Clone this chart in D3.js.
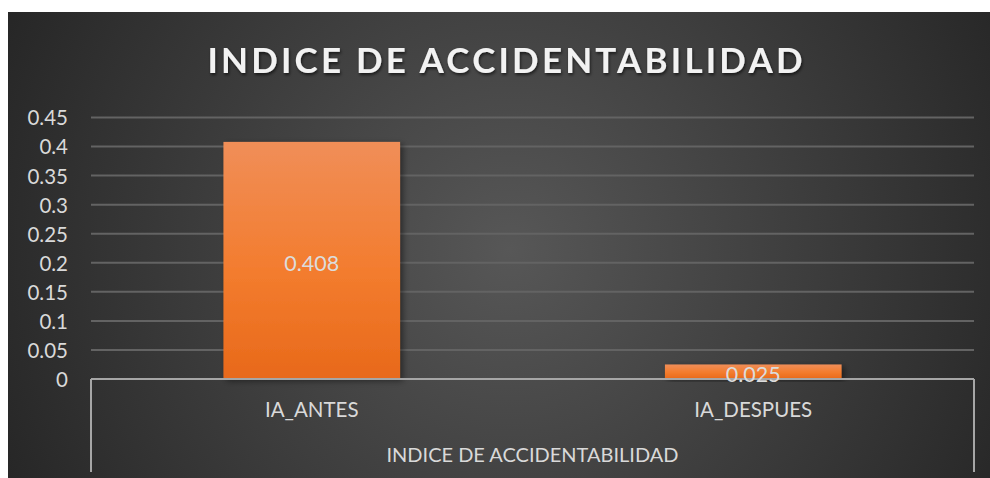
<!DOCTYPE html>
<html><head><meta charset="utf-8">
<script src="https://cdn.jsdelivr.net/npm/d3@7"></script>
<style>html,body{margin:0;padding:0;background:#fff;overflow:hidden}</style>
</head><body>
<svg id="chart" width="990" height="478"></svg>
<script>
const categories = ["IA_ANTES", "IA_DESPUES"];
const values = [0.408, 0.025];
const valueLabels = ["0.408", "0.025"];
const yTicks = [0, 0.05, 0.1, 0.15, 0.2, 0.25, 0.3, 0.35, 0.4, 0.45];
const title = "INDICE DE ACCIDENTABILIDAD";
const groupLabel = "INDICE DE ACCIDENTABILIDAD";

(function () {
const FONT = "Lato, 'Open Sans', sans-serif";
const svg = d3.select("#chart");
const defs = svg.append("defs");
const bg = defs.append("radialGradient").attr("id","bg").attr("gradientUnits","userSpaceOnUse")
  .attr("cx",510).attr("cy",250).attr("r",560);
bg.append("stop").attr("offset","0%").attr("stop-color","#575757");
bg.append("stop").attr("offset","100%").attr("stop-color","#262626");
const bar = defs.append("linearGradient").attr("id","bar").attr("x1",0).attr("y1",0).attr("x2",0).attr("y2",1);
bar.append("stop").attr("offset","0%").attr("stop-color","#f08e58");
bar.append("stop").attr("offset","55%").attr("stop-color","#f37c2e");
bar.append("stop").attr("offset","100%").attr("stop-color","#e8691a");
const sh = defs.append("filter").attr("id","sh").attr("x","-20%").attr("y","-20%").attr("width","140%").attr("height","140%");
sh.append("feDropShadow").attr("dx",3).attr("dy",2).attr("stdDeviation",3).attr("flood-color","#000").attr("flood-opacity",0.45);
const tsh = defs.append("filter").attr("id","tsh");
tsh.append("feDropShadow").attr("dx",1).attr("dy",2).attr("stdDeviation",1.5).attr("flood-color","#000").attr("flood-opacity",0.6);

svg.append("rect").attr("x",8).attr("y",12).attr("width",982).attr("height",466).attr("fill","url(#bg)");

const pLeft = 91, pRight = 974, pTop = 117.5, pBottom = 379;
const y = d3.scaleLinear().domain([0, 0.45]).range([pBottom, pTop]);
const x = d3.scaleBand().domain(categories).range([pLeft, pRight]).paddingInner(0.6).paddingOuter(0.3);

svg.append("g").selectAll("line").data(yTicks.filter(d => d > 0)).join("line")
  .attr("x1", pLeft).attr("x2", pRight).attr("y1", d => y(d)).attr("y2", d => y(d))
  .attr("stroke","#636363").attr("stroke-width",2);

const yAxis = d3.axisLeft(y).tickValues(yTicks).tickSize(0).tickPadding(0).tickFormat(d => String(d));
const ga = svg.append("g").attr("transform", `translate(${pLeft-23},0)`).call(yAxis);
ga.select(".domain").remove();
ga.selectAll("text").attr("fill","#d9d9d9").attr("font-family",FONT).attr("font-size",20.5).attr("dy","0.36em");

svg.append("g").selectAll("rect").data(values).join("rect")
  .attr("x",(d,i)=>x(categories[i])).attr("width",x.bandwidth())
  .attr("y",d=>y(d)).attr("height",d=>y(0)-y(d))
  .attr("fill","url(#bar)").attr("filter","url(#sh)");

const ax = svg.append("g").attr("stroke","#a6a6a6").attr("stroke-width",2).attr("fill","none");
ax.append("line").attr("x1",pLeft).attr("x2",pRight).attr("y1",pBottom).attr("y2",pBottom);
ax.append("line").attr("x1",pLeft).attr("x2",pLeft).attr("y1",pBottom).attr("y2",472);
ax.append("line").attr("x1",pRight).attr("x2",pRight).attr("y1",pBottom).attr("y2",472);

svg.append("g").selectAll("text").data(values).join("text")
  .attr("x",(d,i)=>x(categories[i])+x.bandwidth()/2)
  .attr("y",d=>(y(d)+y(0))/2 + 3).attr("dy","0.36em")
  .attr("text-anchor","middle").attr("fill","#dcdcdc")
  .attr("font-family",FONT).attr("font-size",21.5)
  .text((d,i)=>valueLabels[i]);

svg.append("g").selectAll("text").data(categories).join("text")
  .attr("x",d=>x(d)+x.bandwidth()/2).attr("y",410).attr("dy","0.36em")
  .attr("text-anchor","middle").attr("fill","#d9d9d9")
  .attr("font-family",FONT).attr("font-size",20.5)
  .text(d=>d);

svg.append("text").attr("x",(pLeft+pRight)/2).attr("y",455).attr("dy","0.36em")
  .attr("text-anchor","middle").attr("fill","#d9d9d9")
  .attr("font-family",FONT).attr("font-size",20)
  .text(groupLabel);

svg.append("text").attr("x",505).attr("y",60).attr("dy","0.36em")
  .attr("text-anchor","middle").attr("fill","#f2f2f2")
  .attr("font-family",FONT).attr("font-weight","bold").attr("font-size",35)
  .attr("textLength",595).attr("lengthAdjust","spacing")
  .attr("filter","url(#tsh)")
  .text(title);
})();
</script>
</body></html>
